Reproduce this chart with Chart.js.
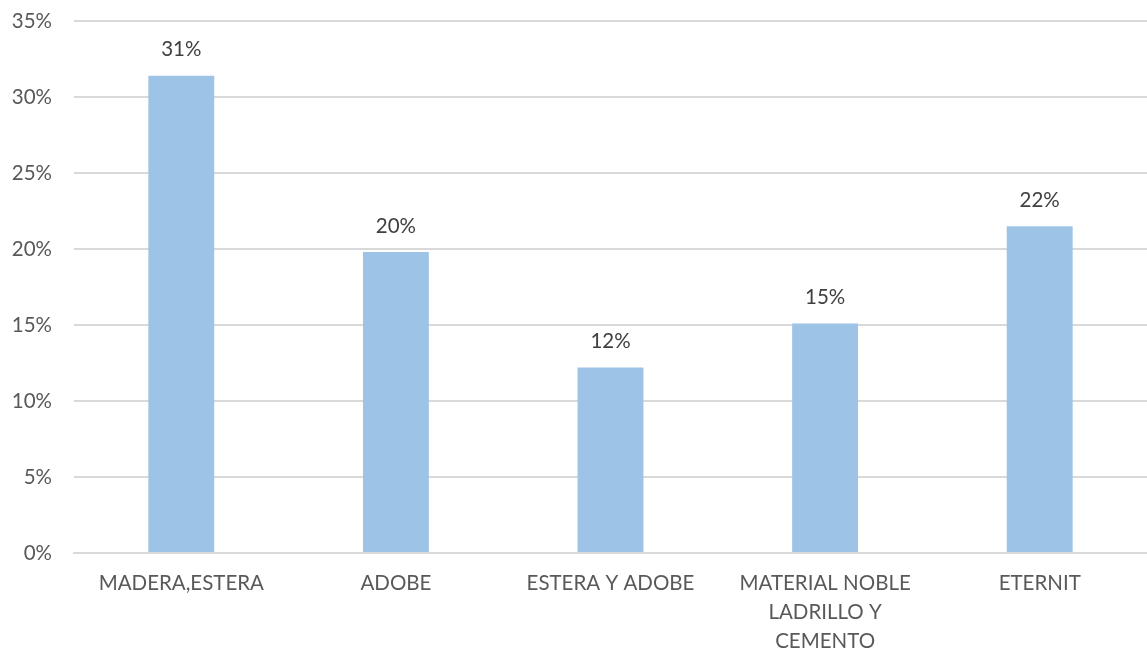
<!DOCTYPE html>
<html>
<head>
<meta charset="utf-8">
<script src="https://cdn.jsdelivr.net/npm/chart.js@4.4.1/dist/chart.umd.min.js"></script>
<style>
  html, body { margin: 0; padding: 0; background: #fff; }
  #wrap { width: 1147px; height: 655px; position: relative; }
</style>
</head>
<body>
<div id="wrap"><canvas id="chart"></canvas></div>
<script>
// Housing material shares
const categories = [
  'MADERA,ESTERA',
  'ADOBE',
  'ESTERA Y ADOBE',
  ['MATERIAL NOBLE', 'LADRILLO Y', 'CEMENTO'],
  'ETERNIT'
];
const shares = [31.4, 19.8, 12.2, 15.1, 21.5];
const yTicks = [0, 5, 10, 15, 20, 25, 30, 35];

const FONT = "'Lato', 'Open Sans', sans-serif";
const FONT_SIZE = 20.5;

// value labels above each bar
const barLabels = {
  id: 'barLabels',
  afterDatasetsDraw(chart) {
    const ctx = chart.ctx;
    const meta = chart.getDatasetMeta(0);
    ctx.save();
    ctx.fillStyle = '#404040';
    ctx.font = FONT_SIZE + 'px ' + FONT;
    ctx.textAlign = 'center';
    ctx.textBaseline = 'middle';
    meta.data.forEach((bar, i) => {
      ctx.fillText(Math.round(shares[i]) + '%', bar.x, bar.y - 26);
    });
    ctx.restore();
  }
};

new Chart(document.getElementById('chart'), {
  type: 'bar',
  data: {
    labels: categories,
    datasets: [{
      data: shares,
      backgroundColor: '#9DC3E6',
      borderWidth: 0,
      barPercentage: 0.307,
      categoryPercentage: 1
    }]
  },
  options: {
    responsive: true,
    maintainAspectRatio: false,
    animation: false,
    layout: { padding: { top: 21, right: 0, bottom: 0, left: 0 } },
    plugins: {
      legend: { display: false },
      tooltip: { enabled: false }
    },
    scales: {
      x: {
        grid: { display: false, drawTicks: false },
        border: { color: '#D9D9D9', width: 2 },
        ticks: {
          color: '#595959',
          font: { family: FONT, size: FONT_SIZE, lineHeight: 1.42 },
          padding: 16,
          maxRotation: 0,
          autoSkip: false
        },
        afterFit: s => { s.height = 102; s.paddingLeft = 0; s.paddingRight = 0; }
      },
      y: {
        min: 0,
        max: 35,
        afterBuildTicks: s => { s.ticks = yTicks.map(v => ({ value: v })); },
        grid: { color: '#D9D9D9', lineWidth: 2, drawTicks: false },
        border: { display: false },
        ticks: {
          color: '#595959',
          font: { family: FONT, size: FONT_SIZE },
          padding: 22,
          callback: v => v + '%'
        },
        afterFit: s => { s.width = 74; s.paddingTop = 0; s.paddingBottom = 0; }
      }
    }
  },
  plugins: [barLabels]
});
</script>
</body>
</html>
